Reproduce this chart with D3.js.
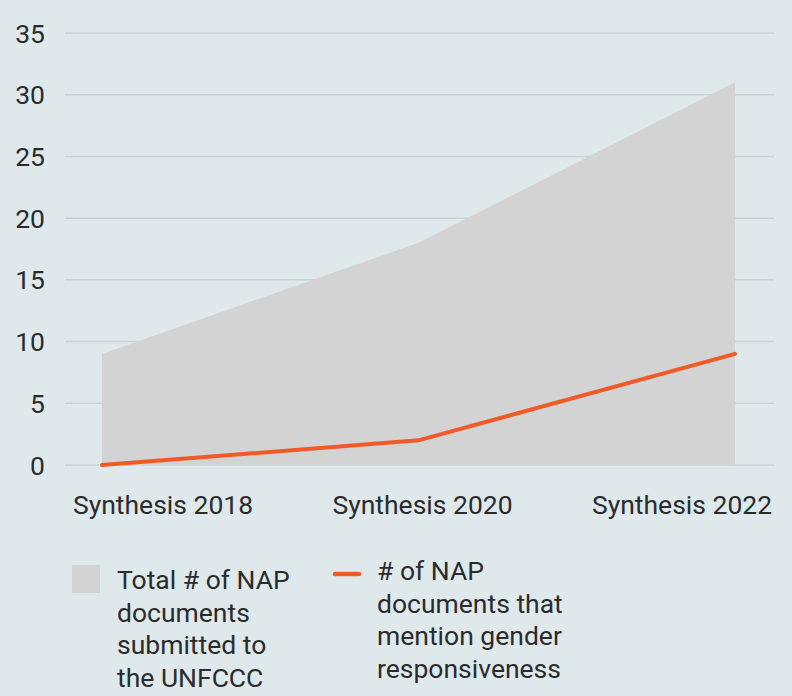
<!DOCTYPE html>
<html>
<head>
<meta charset="utf-8">
<script src="https://cdn.jsdelivr.net/npm/d3@7"></script>
<style>
  html, body { margin: 0; padding: 0; background: #dfe9ec; }
  svg { display: block; font-family: Roboto, "Noto Sans", sans-serif; }
</style>
</head>
<body>
<div id="chart"></div>
<script>
const categories = ["Synthesis 2018", "Synthesis 2020", "Synthesis 2022"];
const totalDocs = [9, 18, 31];
const genderDocs = [0, 2, 9];
const yTicks = [0, 5, 10, 15, 20, 25, 30, 35];

const W = 792;
const H = 696;
const FS = 26.5;

const svg = d3.select("#chart").append("svg").attr("width", W).attr("height", H);

const x = d3.scalePoint().domain(categories).range([102, 735]);
const xLabel = d3.scalePoint().domain(categories).range([163, 682]);
const y = d3.scaleLinear().domain([0, 35]).range([465, 33]);

// Gitterlinien
svg.append("g")
  .selectAll("line")
  .data(yTicks)
  .join("line")
  .attr("x1", 65)
  .attr("x2", 774)
  .attr("y1", d => y(d))
  .attr("y2", d => y(d))
  .attr("stroke", "#c8d3d7")
  .attr("stroke-width", 1.5);

// Y-Achse Beschriftung
svg.append("g")
  .selectAll("text")
  .data(yTicks)
  .join("text")
  .attr("x", 45)
  .attr("y", d => y(d))
  .attr("dy", "0.36em")
  .attr("text-anchor", "end")
  .attr("font-size", FS)
  .attr("fill", "#2b2b2b")
  .text(d => d);

// Fläche
const rows = categories.map((c, i) => ({ cat: c, total: totalDocs[i], gender: genderDocs[i] }));

svg.append("path")
  .datum(rows)
  .attr("fill", "#d3d3d3")
  .attr("d", d3.area().x(d => x(d.cat)).y0(y(0)).y1(d => y(d.total)));

// Linie
svg.append("path")
  .datum(rows)
  .attr("fill", "none")
  .attr("stroke", "#f05a28")
  .attr("stroke-width", 4)
  .attr("stroke-linecap", "round")
  .attr("d", d3.line().x(d => x(d.cat)).y(d => y(d.gender)));

// X-Achse Beschriftung
svg.append("g")
  .selectAll("text")
  .data(categories)
  .join("text")
  .attr("x", d => xLabel(d))
  .attr("y", 514)
  .attr("text-anchor", "middle")
  .attr("font-size", FS)
  .attr("fill", "#2b2b2b")
  .text(d => d);

// Legende
const legend = svg.append("g");
legend.append("rect").attr("x", 72).attr("y", 565).attr("width", 28).attr("height", 28).attr("fill", "#d3d3d3");
legend.append("text")
  .attr("font-size", FS)
  .attr("fill", "#2b2b2b")
  .selectAll("tspan")
  .data(["Total # of NAP", "documents", "submitted to", "the UNFCCC"])
  .join("tspan")
  .attr("x", 117)
  .attr("y", (d, i) => 589 + i * 32.7)
  .text(d => d);

legend.append("line").attr("x1", 335).attr("x2", 359).attr("y1", 574).attr("y2", 574)
  .attr("stroke", "#f05a28").attr("stroke-width", 4.5).attr("stroke-linecap", "round");
legend.append("text")
  .attr("font-size", FS)
  .attr("fill", "#2b2b2b")
  .selectAll("tspan")
  .data(["# of NAP", "documents that", "mention gender", "responsiveness"])
  .join("tspan")
  .attr("x", 377)
  .attr("y", (d, i) => 580 + i * 32.7)
  .text(d => d);
</script>
</body>
</html>
